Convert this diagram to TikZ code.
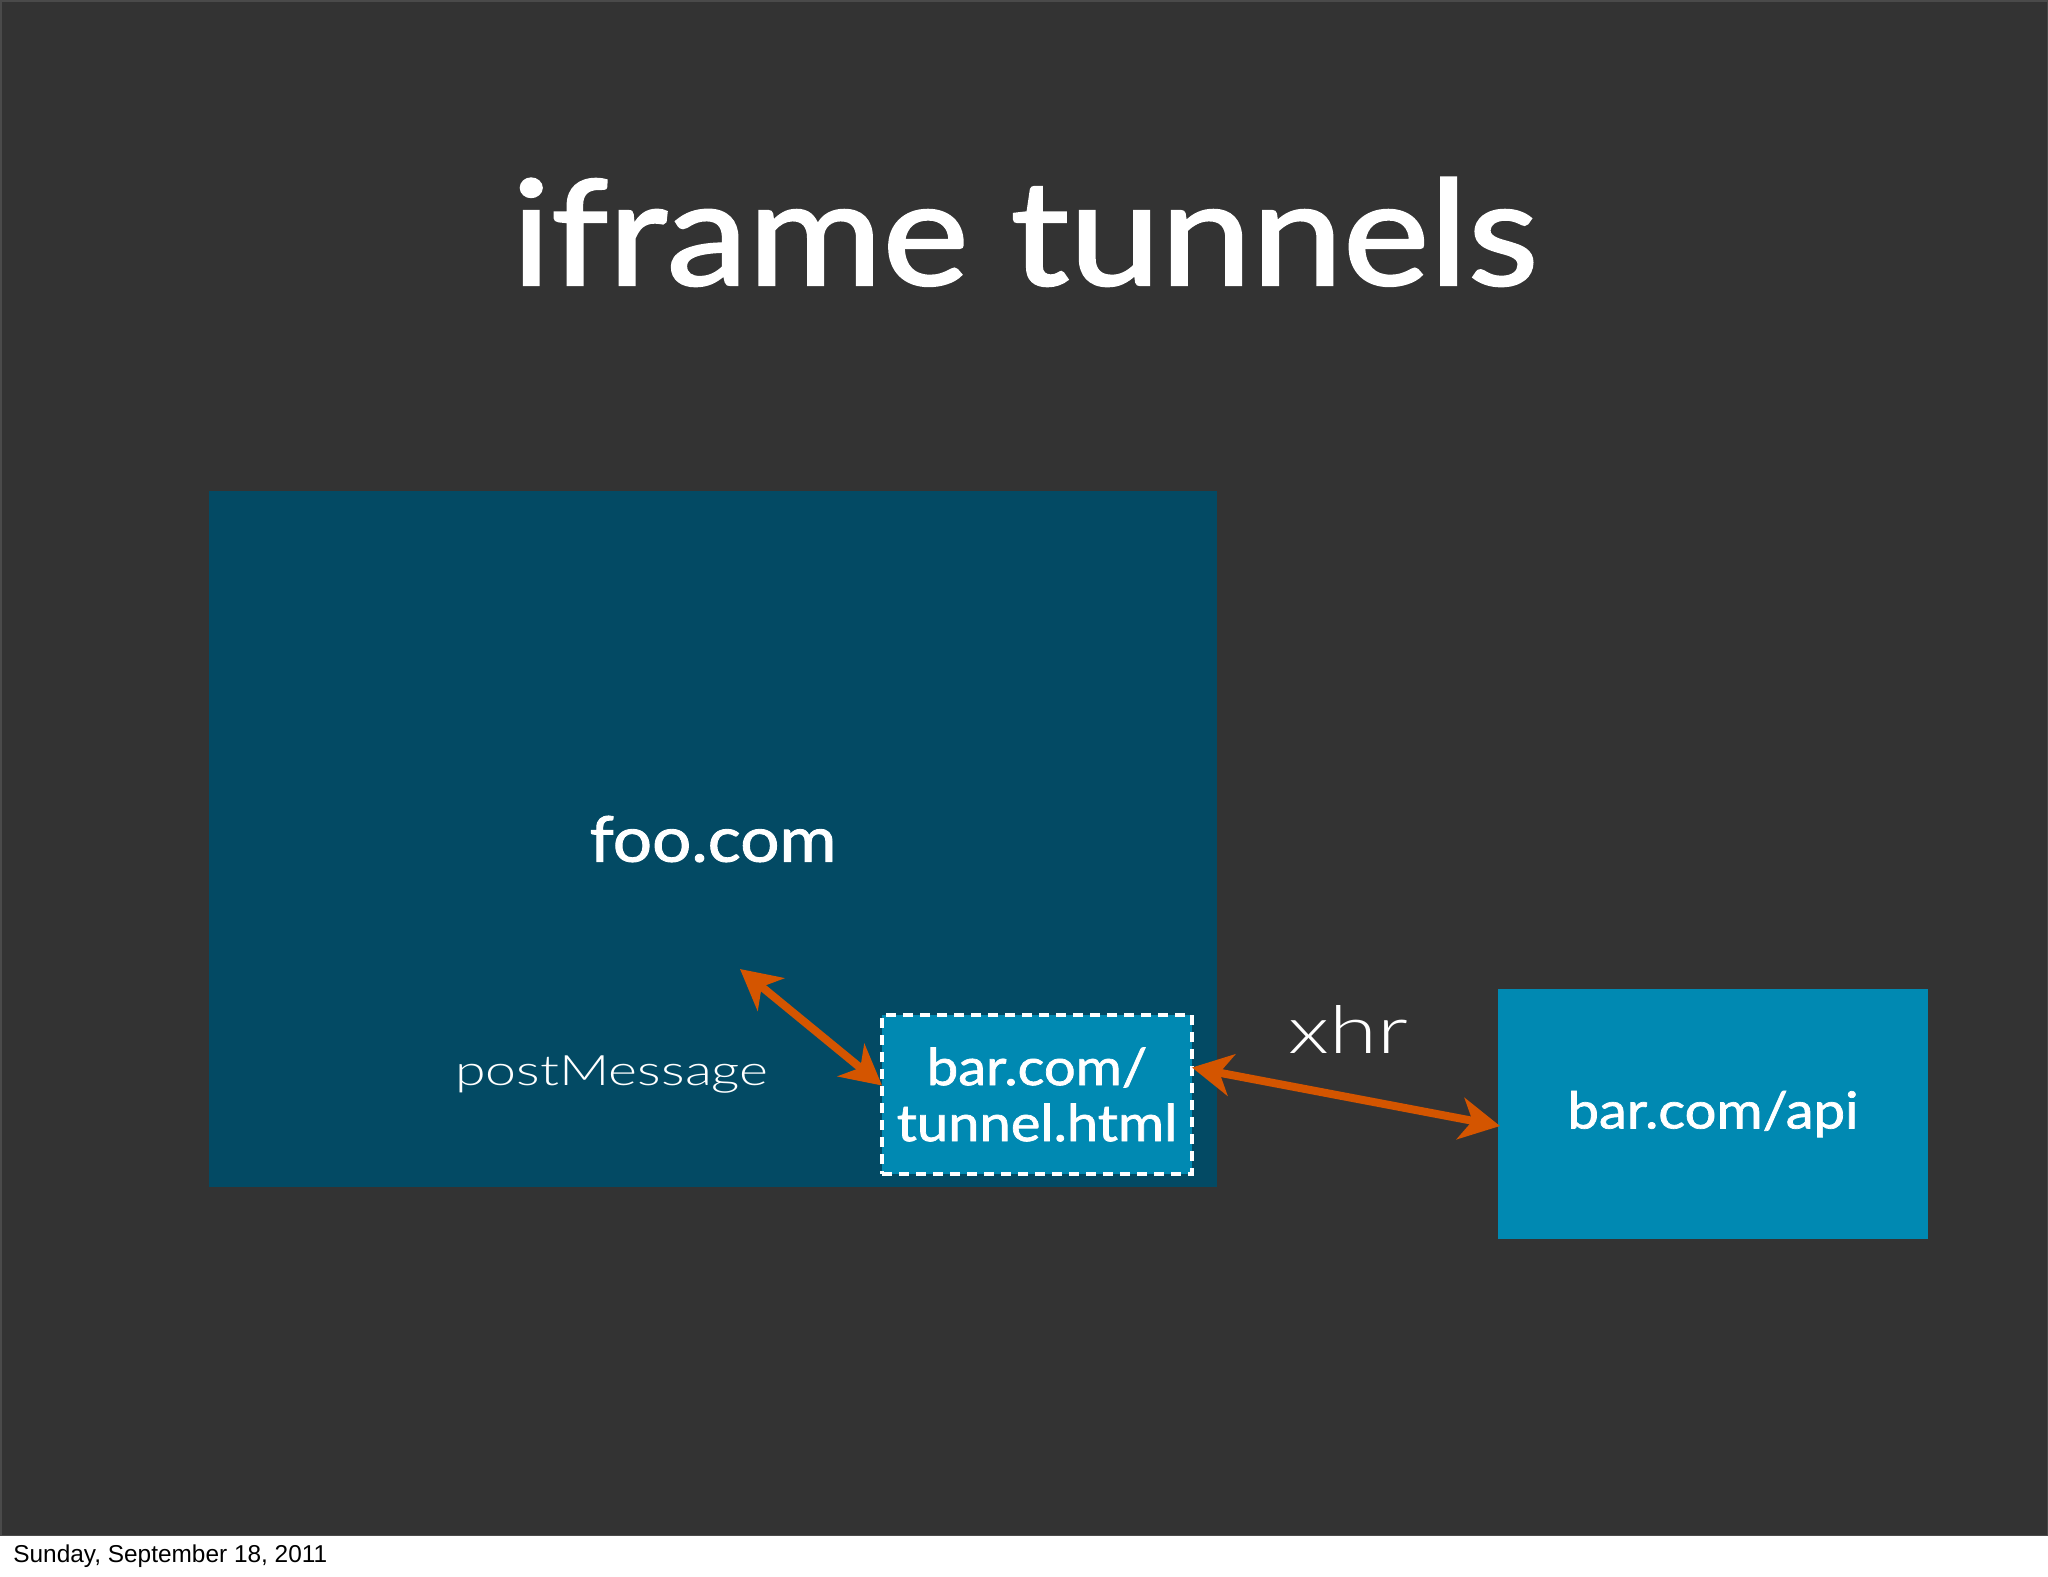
\documentclass[tikz,border=0pt]{standalone}
\usepackage{fontspec}
\setmainfont{Lato}
\newfontfamily\titlef[FakeStretch=1.12, FakeBold=1.6]{Lato}
\newfontfamily\boldf[FakeStretch=1.1, FakeBold=1.4]{Lato}
\newfontfamily\lightf[FakeStretch=1.32]{Lato Light}
\newfontfamily\datef{Liberation Sans}
\usetikzlibrary{arrows.meta}
\definecolor{slidebg}{HTML}{333333}
\definecolor{slideedge}{HTML}{4A4A4A}
\definecolor{foocol}{HTML}{034A64}
\definecolor{barcol}{HTML}{0089B2}
\definecolor{arrcol}{HTML}{D45500}
\tikzset{
  pagebox/.style={draw=none, fill=#1, inner sep=0pt, outer sep=0pt},
  boldtxt/.style={text=white, font=\boldf\fontsize{#1}{28pt}\selectfont},
  lighttxt/.style={text=white, font=\lightf\fontsize{#1}{#1}\selectfont},
  biarrow/.style={line width=4pt, draw=arrcol,
    {Stealth[length=20pt,width=21pt,inset=6pt]}-{Stealth[length=20pt,width=21pt,inset=6pt]}},
}
\begin{document}
\begin{tikzpicture}[x=0.5pt,y=-0.5pt]
\useasboundingbox (0,0) rectangle (2048,1576);
\fill[white] (0,0) rectangle (2048,1576);
\fill[slidebg] (0,0) rectangle (2048,1536);
\draw[slideedge, line width=0.75pt] (0.75,0.75) rectangle (2047.25,1535.5);
% title
\node[anchor=base, text=white, font=\titlef\fontsize{73pt}{80pt}\selectfont, inner sep=0pt] (title) at (1025,285) {iframe tunnels};
% boxes
\node[pagebox=foocol, minimum width=504pt, minimum height=348pt, boldtxt=31.5pt] (foo) at (713,839) {foo.com};
\node[pagebox=barcol, minimum width=155pt, minimum height=79.5pt, draw=white, line width=1.75pt, dash pattern=on 5pt off 3.5pt, boldtxt=25.5pt, align=center] (tunnel) at (1037,1094.5) {bar.com/\\tunnel.html};
\node[pagebox=barcol, minimum width=215pt, minimum height=125pt, boldtxt=25.5pt] (api) at (1713,1114) {bar.com/api};
% labels
\node[anchor=base, lighttxt=21pt, inner sep=0pt] (pmlabel) at (612,1085) {postMessage};
\node[anchor=base, lighttxt=33pt, inner sep=0pt] (xhrlabel) at (1348,1053) {xhr};
% connectors
\coordinate (pm) at (740,969);
\draw[biarrow] (pm) -- ([yshift=4.5pt]tunnel.west);
\draw[biarrow] ([yshift=13.5pt]tunnel.east) -- ([xshift=1pt,yshift=-6pt]api.west);
% footer date
\node[anchor=base west, inner sep=0pt, text=black, font=\datef\fontsize{12.2pt}{14pt}\selectfont] (date) at (13,1562) {Sunday, September 18, 2011};
\end{tikzpicture}
\end{document}
